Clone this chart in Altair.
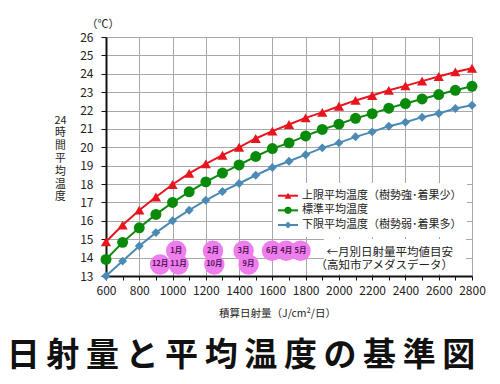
import altair as alt
import pandas as pd

FONT = "Noto Sans CJK JP"

# ---- data ----
radiation = [600, 700, 800, 900, 1000, 1100, 1200, 1300, 1400, 1500, 1600, 1700,
             1800, 1900, 2000, 2100, 2200, 2300, 2400, 2500, 2600, 2700, 2800]
upper = [14.86, 15.77, 16.58, 17.30, 17.98, 18.58, 19.10, 19.57, 20.00, 20.48, 20.88, 21.24,
         21.60, 21.90, 22.23, 22.55, 22.82, 23.10, 23.34, 23.60, 23.85, 24.10, 24.30]
standard = [13.90, 14.83, 15.62, 16.35, 17.00, 17.58, 18.12, 18.60, 19.04, 19.50, 19.93, 20.24,
            20.62, 20.97, 21.26, 21.58, 21.83, 22.13, 22.38, 22.63, 22.87, 23.10, 23.32]
lower = [13.00, 13.81, 14.63, 15.36, 16.00, 16.58, 17.12, 17.60, 18.03, 18.48, 18.90, 19.24,
         19.60, 19.97, 20.24, 20.57, 20.84, 21.15, 21.36, 21.64, 21.84, 22.11, 22.29]

series_names = ["上限平均温度（樹勢強･着果少）", "標準平均温度", "下限平均温度（樹勢弱･着果多）"]
series_colors = ["#e8141e", "#0a8a0a", "#4a8ab4"]
series_shapes = ["triangle-up", "circle", "diamond"]
series_sizes = [105, 120, 80]
legend_sizes = [50, 50, 42]

months = ["1月", "12月", "11月", "2月", "10月", "3月", "9月", "6月", "4月", "5月"]
month_rad = [1022, 925, 1036, 1243, 1251, 1427, 1457, 1598, 1683, 1769]
month_row = [14.37, 13.63, 13.63, 14.37, 13.63, 14.37, 13.63, 14.37, 14.37, 14.37]

x_ticks = list(range(600, 2801, 100))
y_ticks = list(range(13, 27))
y_title_lines = ["24", "時", "間", "平", "均", "温", "度"]

rows = []
for name, vals in zip(series_names, [upper, standard, lower]):
    for x, v in zip(radiation, vals):
        rows.append({"rad": x, "temp": v, "series": name})
df = pd.DataFrame(rows)
mdf = pd.DataFrame({"rad": month_rad, "temp": month_row, "label": months})
ldf = pd.DataFrame({"series": series_names})

W, H = 366, 239
xscale = alt.Scale(domain=[600, 2800], nice=False, zero=False)
yscale = alt.Scale(domain=[13, 26], nice=False, zero=False)

x_axis = alt.Axis(
    values=x_ticks,
    labelExpr="datum.value % 200 == 0 ? datum.label : ''",
    gridOpacity=alt.condition("datum.value % 200 == 0", alt.value(1), alt.value(0)),
    title="積算日射量（J/cm²/日）", titleFont=FONT, titleFontSize=10.5,
    titleFontWeight="normal", titleColor="#222", titleX=171, titleY=37,
    titleBaseline="middle",
    labelFont=FONT, labelFontSize=12, labelColor="#222", labelPadding=5,
    tickSize=4, tickColor="#111", domainColor="#111", domainWidth=2,
    grid=True, gridColor="#a8a8a8", format="d", labelFlush=False,
)
y_axis = alt.Axis(
    values=y_ticks,
    title=y_title_lines,
    titleAngle=0, titleAlign="center", titleBaseline="top",
    titleX=-46, titleY=77, titleLineHeight=12.8,
    titleFont=FONT, titleFontSize=10.8, titleFontWeight="normal", titleColor="#222",
    labelFont=FONT, labelFontSize=12, labelColor="#222", labelPadding=8,
    tickSize=5, tickColor="#111", domainColor="#111", domainWidth=2,
    grid=True, gridColor="#a8a8a8",
)

X = alt.X("rad:Q", scale=xscale, axis=x_axis)
Y = alt.Y("temp:Q", scale=yscale, axis=y_axis)
stroke_scale = alt.Scale(domain=series_names, range=series_colors)

base = alt.Chart(df)

note_bg = alt.Chart(pd.DataFrame({"a": [0]})).mark_rect(color="white").encode(
    x=alt.value(218), x2=alt.value(360), y=alt.value(202), y2=alt.value(237)
)
legend_bg = alt.Chart(pd.DataFrame({"a": [0]})).mark_rect(color="white").encode(
    x=alt.value(167), x2=alt.value(361), y=alt.value(146), y2=alt.value(200)
)

lines = base.mark_line(strokeWidth=2).encode(
    x=X, y=Y,
    stroke=alt.Stroke("series:N", scale=stroke_scale, legend=None),
)

point_layers = []
for name, col, shp, sz in zip(series_names, series_colors, series_shapes, series_sizes):
    point_layers.append(
        base.transform_filter(alt.datum.series == name)
        .mark_point(filled=True, opacity=1, color=col, shape=shp, size=sz)
        .encode(x=X, y=Y)
    )

bubbles = alt.Chart(mdf).mark_circle(color="#ee7eee", opacity=1, size=420).encode(x=X, y=Y)
bubble_text = alt.Chart(mdf).mark_text(
    font=FONT, fontSize=7.5, fontWeight="bold", color="#551555"
).encode(x=X, y=Y, text="label:N")

note = alt.Chart(pd.DataFrame({"t": [["←月別日射量平均値目安", "（高知市アメダスデータ）"]]})).mark_text(
    font=FONT, fontSize=11.5, color="#222", align="right", baseline="middle", lineHeight=13
).encode(x=alt.value(347), y=alt.value(215.5), text="t")

unit = alt.Chart(pd.DataFrame({"t": ["（℃）"]})).mark_text(
    font=FONT, fontSize=11, color="#222", align="center", baseline="middle"
).encode(x=alt.value(-3), y=alt.value(-12), text="t:N")

title = alt.Chart(pd.DataFrame({"t": ["日\u2009射\u2009量\u2009と\u2009平\u2009均\u2009温\u2009度\u2009の\u2009基\u2009準\u2009図"]})).mark_text(
    font=FONT, fontSize=33, fontWeight="bold", color="#111", align="center", baseline="middle"
).encode(x=alt.value(135), y=alt.value(319), text="t:N")

main = alt.layer(note_bg, legend_bg, lines, *point_layers, bubbles, bubble_text, note, unit, title)

# ---- legend (built from the series list) ----
LY = alt.Y("series:N", scale=alt.Scale(type="point", domain=series_names, range=[158.7, 188], padding=0), axis=None)
leg_line = alt.Chart(ldf).mark_rule(strokeWidth=2).encode(
    x=alt.value(172), x2=alt.value(192), y=LY,
    stroke=alt.Stroke("series:N", scale=stroke_scale, legend=None),
)
leg_mark = alt.Chart(ldf).mark_point(filled=True, opacity=1).encode(
    x=alt.value(182), y=LY,
    fill=alt.Fill("series:N", scale=alt.Scale(domain=series_names, range=series_colors), legend=None),
    shape=alt.Shape("series:N", scale=alt.Scale(domain=series_names, range=series_shapes), legend=None),
    size=alt.Size("series:N", scale=alt.Scale(domain=series_names, range=legend_sizes), legend=None),
)
leg_text = alt.Chart(ldf).mark_text(
    font=FONT, fontSize=11, color="#222", align="left", baseline="middle"
).encode(x=alt.value(196), y=LY, text="series:N")
legend = alt.layer(leg_line, leg_mark, leg_text)

chart = alt.layer(main, legend).resolve_scale(y="independent").properties(
    width=W, height=H,
    autosize=alt.AutoSizeParams(type="none"),
    padding={"left": 98, "top": 29, "right": 16, "bottom": 100},
    background="white",
).configure_view(stroke=None)

chart.save("out.html", embed_options={"renderer": "svg", "actions": False})
